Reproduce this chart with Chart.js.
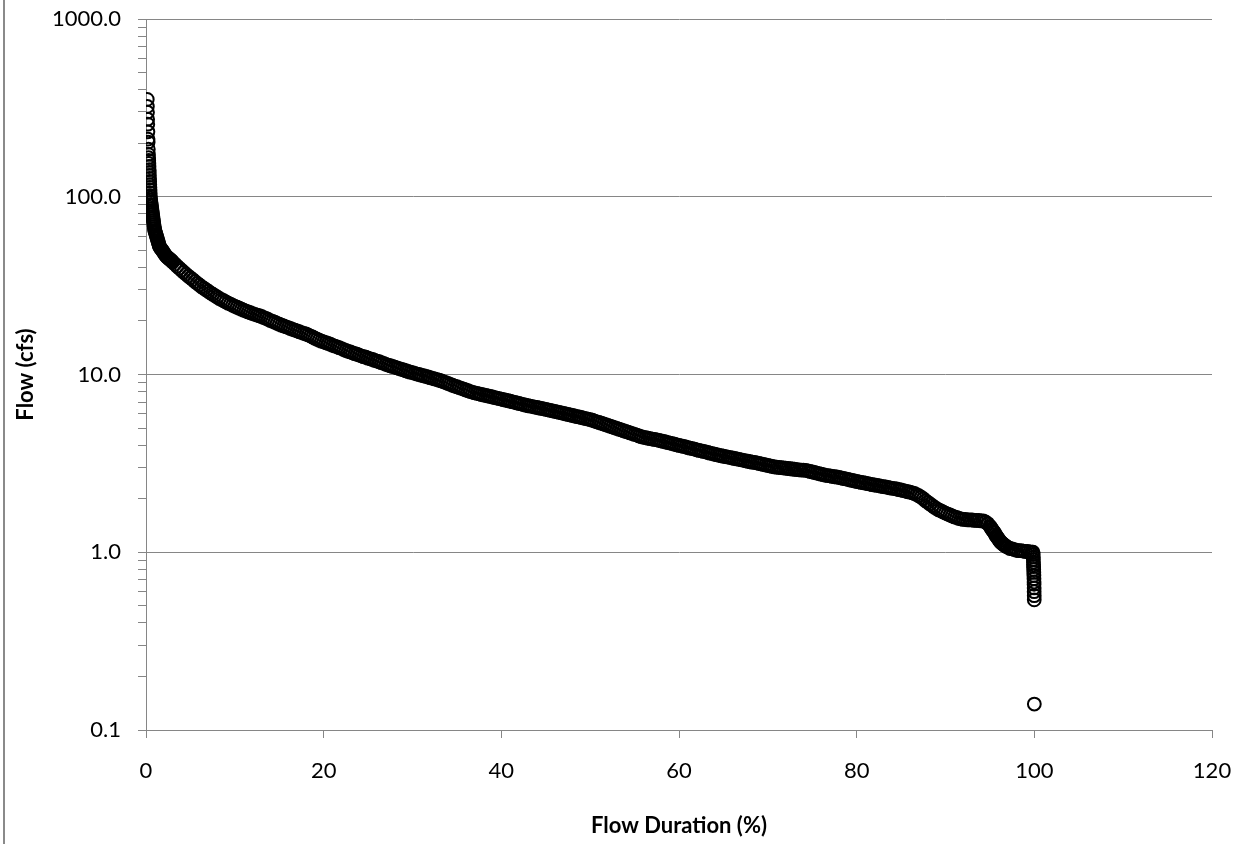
<!DOCTYPE html>
<html>
<head>
<meta charset="utf-8">
<title>Flow Duration Curve</title>
<script src="https://cdn.jsdelivr.net/npm/chart.js@4.4.1/dist/chart.umd.min.js"></script>
<style>
  html, body { margin: 0; padding: 0; background: #fff; }
  #wrap { position: relative; width: 1243px; height: 844px; overflow: hidden; }
  #edge { position: absolute; left: 3px; top: 0; width: 2px; height: 844px; background: #8a8a8a; }
</style>
</head>
<body>
<div id="wrap">
  <canvas id="fdcChart" width="1243" height="844"></canvas>
  <div id="edge"></div>
</div>
<script>
// exceedance percentage of each ranked daily flow
const durationPct = [
  0.14, 0.155, 0.17, 0.185, 0.2, 0.215, 0.23, 0.245, 0.26, 0.275, 0.29, 0.305, 0.32, 0.335, 0.35, 0.365, 0.38, 0.395, 0.41, 0.425, 0.44, 0.455, 0.47, 0.485,
  0.50, 0.53, 0.56, 0.59, 0.62, 0.65, 0.68, 0.71, 0.74, 0.77, 0.80, 0.83, 0.86, 0.89, 0.92, 0.95, 0.98,
  1.02, 1.07, 1.12, 1.17, 1.22, 1.27, 1.32, 1.37, 1.42, 1.47, 1.52, 1.57,
  1.7, 1.8, 1.9, 2.0, 2.1, 2.2, 2.3, 2.4, 2.5, 2.6, 2.7, 2.8, 2.9, 3.0,
  3.25, 3.5, 3.75, 4, 4.25, 4.5, 4.75, 5, 5.25, 5.5, 5.75, 6, 6.25, 6.5, 6.75, 7,
  7.25, 7.5, 7.75, 8, 8.25, 8.5, 8.75, 9, 9.25, 9.5, 9.75, 10, 10.25, 10.5, 10.75, 11,
  11.25, 11.5, 11.75, 12, 12.25, 12.5, 12.75, 13, 13.25, 13.5, 13.75, 14, 14.25, 14.5, 14.75, 15,
  15.25, 15.5, 15.75, 16, 16.25, 16.5, 16.75, 17, 17.25, 17.5, 17.75, 18, 18.25, 18.5, 18.75, 19,
  19.25, 19.5, 19.75, 20, 20.25, 20.5, 20.75, 21, 21.25, 21.5, 21.75, 22, 22.25, 22.5, 22.75, 23,
  23.25, 23.5, 23.75, 24, 24.25, 24.5, 24.75, 25, 25.25, 25.5, 25.75, 26, 26.25, 26.5, 26.75, 27,
  27.25, 27.5, 27.75, 28, 28.25, 28.5, 28.75, 29, 29.25, 29.5, 29.75, 30, 30.25, 30.5, 30.75, 31,
  31.25, 31.5, 31.75, 32, 32.25, 32.5, 32.75, 33, 33.25, 33.5, 33.75, 34, 34.25, 34.5, 34.75, 35,
  35.25, 35.5, 35.75, 36, 36.25, 36.5, 36.75, 37, 37.25, 37.5, 37.75, 38, 38.25, 38.5, 38.75, 39,
  39.25, 39.5, 39.75, 40, 40.25, 40.5, 40.75, 41, 41.25, 41.5, 41.75, 42, 42.25, 42.5, 42.75, 43,
  43.25, 43.5, 43.75, 44, 44.25, 44.5, 44.75, 45, 45.25, 45.5, 45.75, 46, 46.25, 46.5, 46.75, 47,
  47.25, 47.5, 47.75, 48, 48.25, 48.5, 48.75, 49, 49.25, 49.5, 49.75, 50, 50.25, 50.5, 50.75, 51,
  51.25, 51.5, 51.75, 52, 52.25, 52.5, 52.75, 53, 53.25, 53.5, 53.75, 54, 54.25, 54.5, 54.75, 55,
  55.25, 55.5, 55.75, 56, 56.25, 56.5, 56.75, 57, 57.25, 57.5, 57.75, 58, 58.25, 58.5, 58.75, 59,
  59.25, 59.5, 59.75, 60, 60.25, 60.5, 60.75, 61, 61.25, 61.5, 61.75, 62, 62.25, 62.5, 62.75, 63,
  63.25, 63.5, 63.75, 64, 64.25, 64.5, 64.75, 65, 65.25, 65.5, 65.75, 66, 66.25, 66.5, 66.75, 67,
  67.25, 67.5, 67.75, 68, 68.25, 68.5, 68.75, 69, 69.25, 69.5, 69.75, 70, 70.25, 70.5, 70.75, 71,
  71.25, 71.5, 71.75, 72, 72.25, 72.5, 72.75, 73, 73.25, 73.5, 73.75, 74, 74.25, 74.5, 74.75, 75,
  75.25, 75.5, 75.75, 76, 76.25, 76.5, 76.75, 77, 77.25, 77.5, 77.75, 78, 78.25, 78.5, 78.75, 79,
  79.25, 79.5, 79.75, 80, 80.25, 80.5, 80.75, 81, 81.25, 81.5, 81.75, 82, 82.25, 82.5, 82.75, 83,
  83.25, 83.5, 83.75, 84, 84.25, 84.5, 84.75, 85, 85.25, 85.5, 85.75, 86, 86.25, 86.5, 86.75, 87,
  87.25, 87.5, 87.75, 88, 88.25, 88.5, 88.75, 89, 89.25, 89.5, 89.75, 90, 90.25, 90.5, 90.75, 91,
  91.25, 91.5, 91.75, 92, 92.25, 92.5, 92.75, 93, 93.25, 93.5, 93.75, 94, 94.25, 94.5, 94.75,
  95.0, 95.1, 95.2, 95.3, 95.4, 95.5, 95.6, 95.7, 95.8, 95.9, 96.0, 96.1, 96.2, 96.3, 96.4, 96.5, 96.6, 96.7, 96.8,
  97, 97.25, 97.5, 97.75, 98, 98.25, 98.5, 98.75, 99, 99.25, 99.5, 99.75, 99.85,
  99.87, 99.88, 99.89, 99.90, 99.91, 99.92, 99.93, 99.94, 99.95, 99.96, 99.97, 99.97, 99.98, 99.98, 99.99, 99.99, 100
];

// daily flow (cfs), ranked high to low
const flowCfs = [
  353, 322, 299, 273, 256, 232, 211, 203, 185, 173, 166, 160, 154, 148, 142, 137, 132, 127, 122, 117, 113, 109, 105, 101,
  98.1, 95.6, 93.1, 90.7, 88.4, 86.1, 83.9, 81.8, 79.7, 77.6, 75.7, 73.7, 71.8, 70.0, 68.2, 66.4, 64.7,
  63.9, 62.7, 61.5, 60.3, 59.1, 58.0, 56.9, 55.8, 54.7, 53.6, 52.6, 51.9,
  50.9, 50.1, 49.3, 48.5, 47.6, 46.8, 46.2, 45.7, 45.3, 44.8, 44.4, 44.0, 43.5, 43.0,
  41.8, 40.7, 39.6, 38.6, 37.6, 36.7, 35.8, 35.0, 34.2, 33.4, 32.6, 31.9, 31.2, 30.6, 30.0, 29.4,
  28.8, 28.3, 27.8, 27.3, 26.8, 26.4, 26.0, 25.6, 25.2, 24.9, 24.5, 24.2, 23.9, 23.6, 23.3, 23.0,
  22.75, 22.5, 22.25, 22.0, 21.8, 21.6, 21.4, 21.2, 20.9, 20.7, 20.4, 20.1, 19.9, 19.7, 19.4, 19.2,
  18.95, 18.75, 18.55, 18.35, 18.15, 17.95, 17.75, 17.6, 17.4, 17.2, 17.05, 16.9, 16.7, 16.45, 16.25, 16.0,
  15.8, 15.6, 15.4, 15.25, 15.1, 14.95, 14.8, 14.6, 14.45, 14.3, 14.15, 14.0, 13.8, 13.65, 13.5, 13.4,
  13.25, 13.1, 13.0, 12.85, 12.7, 12.6, 12.5, 12.35, 12.25, 12.15, 12.0, 11.9, 11.8, 11.65, 11.55, 11.4,
  11.3, 11.2, 11.1, 11.0, 10.9, 10.8, 10.7, 10.6, 10.5, 10.4, 10.3, 10.25, 10.15, 10.05, 10.0, 9.9,
  9.85, 9.75, 9.68, 9.6, 9.52, 9.44, 9.36, 9.28, 9.2, 9.1, 9.0, 8.9, 8.8, 8.7, 8.6, 8.53,
  8.44, 8.36, 8.28, 8.19, 8.11, 8.02, 7.94, 7.88, 7.83, 7.78, 7.72, 7.67, 7.62, 7.57, 7.52, 7.47,
  7.42, 7.37, 7.32, 7.27, 7.22, 7.17, 7.12, 7.07, 7.02, 6.97, 6.92, 6.87, 6.82, 6.77, 6.72, 6.67,
  6.64, 6.60, 6.56, 6.52, 6.48, 6.45, 6.41, 6.37, 6.33, 6.29, 6.25, 6.21, 6.17, 6.13, 6.09, 6.05,
  6.00, 5.96, 5.92, 5.88, 5.84, 5.80, 5.77, 5.73, 5.69, 5.65, 5.61, 5.58, 5.53, 5.47, 5.42, 5.37,
  5.32, 5.27, 5.22, 5.17, 5.12, 5.07, 5.02, 4.97, 4.92, 4.88, 4.83, 4.78, 4.74, 4.69, 4.65, 4.60,
  4.56, 4.51, 4.47, 4.43, 4.41, 4.38, 4.36, 4.33, 4.31, 4.29, 4.26, 4.23, 4.20, 4.17, 4.14, 4.11,
  4.08, 4.05, 4.02, 3.99, 3.96, 3.94, 3.91, 3.88, 3.85, 3.83, 3.80, 3.77, 3.74, 3.72, 3.69, 3.67,
  3.64, 3.61, 3.59, 3.56, 3.54, 3.51, 3.49, 3.47, 3.45, 3.43, 3.41, 3.39, 3.37, 3.35, 3.33, 3.31,
  3.29, 3.27, 3.25, 3.23, 3.21, 3.20, 3.18, 3.16, 3.14, 3.12, 3.10, 3.08, 3.06, 3.04, 3.02, 3.01,
  3.00, 2.99, 2.98, 2.97, 2.96, 2.95, 2.94, 2.93, 2.92, 2.91, 2.90, 2.90, 2.89, 2.87, 2.85, 2.83,
  2.81, 2.79, 2.77, 2.75, 2.73, 2.71, 2.70, 2.69, 2.67, 2.66, 2.65, 2.64, 2.62, 2.60, 2.59, 2.57,
  2.55, 2.54, 2.52, 2.50, 2.49, 2.47, 2.46, 2.45, 2.43, 2.42, 2.40, 2.39, 2.38, 2.37, 2.35, 2.34,
  2.33, 2.32, 2.30, 2.29, 2.28, 2.27, 2.25, 2.24, 2.22, 2.21, 2.19, 2.18, 2.16, 2.14, 2.11, 2.08,
  2.04, 2.00, 1.95, 1.91, 1.87, 1.83, 1.79, 1.76, 1.73, 1.71, 1.68, 1.66, 1.64, 1.62, 1.60, 1.58,
  1.57, 1.55, 1.54, 1.53, 1.53, 1.52, 1.52, 1.52, 1.51, 1.51, 1.51, 1.50, 1.50, 1.48, 1.45,
  1.40, 1.38, 1.35, 1.33, 1.31, 1.29, 1.26, 1.24, 1.22, 1.20, 1.18, 1.16, 1.14, 1.13, 1.12, 1.11, 1.10, 1.09, 1.08,
  1.065, 1.05, 1.045, 1.035, 1.025, 1.02, 1.02, 1.015, 1.01, 1.01, 1.005, 1.0, 1.0,
  0.97, 0.94, 0.91, 0.88, 0.85, 0.83, 0.80, 0.77, 0.74, 0.71, 0.68, 0.66, 0.63, 0.60, 0.57, 0.54, 0.14
];

// axis tick layout
const xTickValues = [0, 20, 40, 60, 80, 100, 120];
const yDecades = [0.1, 1, 10, 100, 1000];
const yMinorSteps = [2, 3, 4, 5, 6, 7, 8, 9];

const AXIS_GRAY = '#868686';
const FONT = "Lato, 'Open Sans', sans-serif";

const points = durationPct.map((x, i) => ({ x: x, y: flowCfs[i] }));

const ctx = document.getElementById('fdcChart').getContext('2d');
new Chart(ctx, {
  type: 'scatter',
  data: {
    datasets: [{
      data: points,
      pointStyle: 'circle',
      pointRadius: 6.4,
      pointHoverRadius: 6.4,
      pointBorderWidth: 2,
      pointBackgroundColor: 'rgba(0,0,0,0)',
      pointBorderColor: '#000'
    }]
  },
  options: {
    responsive: false,
    animation: false,
    devicePixelRatio: 1,
    events: [],
    layout: { padding: { left: 0, right: 31, top: 19, bottom: 0 } },
    plugins: {
      legend: { display: false },
      tooltip: { enabled: false }
    },
    scales: {
      x: {
        type: 'linear',
        min: 0,
        max: 120,
        afterBuildTicks: (scale) => {
          scale.ticks = xTickValues.map(v => ({ value: v }));
        },
        afterFit: (scale) => {
          scale.height = 114;
          // keep the plot edge fixed; the end labels fit inside the page margin
          scale.paddingLeft = 0;
          scale.paddingRight = 0;
        },
        grid: { drawOnChartArea: false, drawTicks: true, tickLength: 8, tickColor: AXIS_GRAY, color: AXIS_GRAY },
        border: { color: AXIS_GRAY, width: 1 },
        ticks: { color: '#000', font: { family: FONT, size: 22 }, padding: 20, maxRotation: 0 },
        title: {
          display: true,
          text: 'Flow Duration (%)',
          color: '#000',
          font: { family: FONT, size: 22, weight: 'bold' },
          padding: { top: 0, bottom: 5 }
        }
      },
      y: {
        type: 'logarithmic',
        min: 0.1,
        max: 1000,
        afterBuildTicks: (scale) => {
          const ticks = [];
          yDecades.forEach(d => {
            ticks.push({ value: d, major: true });
            if (d < 1000) {
              yMinorSteps.forEach(m => ticks.push({ value: +(d * m).toPrecision(3), major: false }));
            }
          });
          scale.ticks = ticks;
        },
        afterFit: (scale) => {
          scale.width = 146;
          scale.paddingTop = 0;
          scale.paddingBottom = 0;
        },
        grid: {
          color: (c) => (c.tick && c.tick.major ? AXIS_GRAY : 'rgba(0,0,0,0)'),
          tickColor: AXIS_GRAY,
          tickLength: 8,
          drawTicks: true
        },
        border: { color: AXIS_GRAY, width: 1 },
        ticks: {
          autoSkip: false,
          padding: 17,
          color: '#000',
          font: { family: FONT, size: 22 },
          callback: (v, i, ticks) => (ticks[i].major ? Number(v).toFixed(1) : '')
        },
        title: {
          display: true,
          text: 'Flow (cfs)',
          color: '#000',
          font: { family: FONT, size: 22, weight: 'bold' },
          padding: { top: 13, bottom: 0 }
        }
      }
    }
  }
});
</script>
</body>
</html>
